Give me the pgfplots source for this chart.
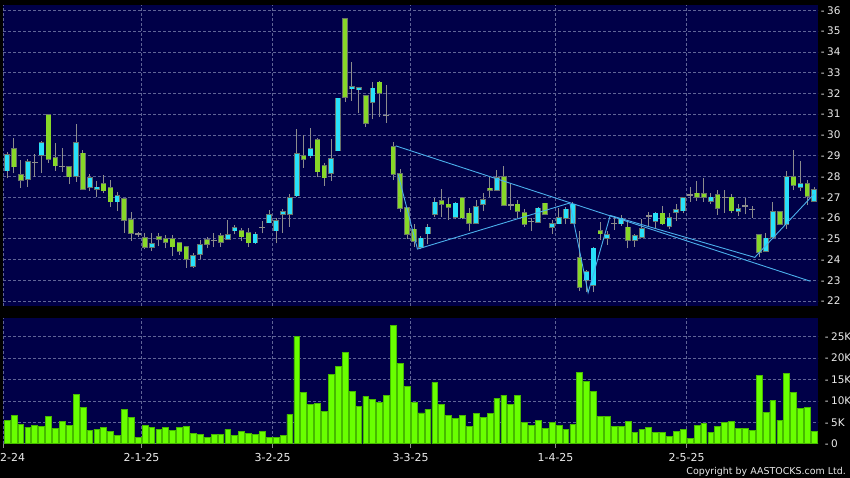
\documentclass[border=0pt]{standalone}
\usepackage{pgfplots}
\pgfplotsset{compat=1.18}
\usepackage{pgfplotstable}
\usepackage{fontspec}
\setmainfont{DejaVu Sans}
\definecolor{navy}{RGB}{0,0,72}
\definecolor{upc}{RGB}{40,225,250}
\definecolor{dnc}{RGB}{135,215,40}
\definecolor{wickc}{RGB}{140,140,140}
\definecolor{edgec}{RGB}{105,115,105}
\definecolor{volc}{RGB}{105,255,0}
\definecolor{voledge}{RGB}{70,185,0}
\definecolor{gridc}{RGB}{95,100,150}
\definecolor{trendc}{RGB}{75,175,235}
\definecolor{labc}{RGB}{235,235,235}
% t: 1 = up (close > open), 2 = down, 0 = doji
\pgfplotstableread{
i o h l c t
0 28.28 29.19 27.91 29.02 1
1 29.31 29.87 28.15 28.47 2
2 28.07 28.79 27.46 27.83 2
3 27.86 28.86 27.51 28.68 1
4 28.68 29.08 27.99 28.68 0
5 29.02 29.72 28.18 29.60 1
6 30.96 30.99 28.66 28.83 2
7 28.89 29.60 28.28 28.52 2
8 28.49 29.35 28.23 28.49 0
9 28.44 28.52 27.62 27.99 2
10 28.02 30.53 27.75 29.60 1
11 29.11 29.27 27.35 27.38 2
12 27.48 28.12 27.32 27.91 1
13 27.40 27.78 27.03 27.47 1
14 27.64 28.07 27.19 27.32 2
15 27.43 27.83 26.55 26.79 2
16 26.79 27.27 26.35 27.06 1
17 26.90 26.92 25.29 25.90 2
18 25.90 26.29 24.91 25.27 2
19 25.23 25.34 25.07 25.23 0
20 25.02 25.26 24.49 24.59 2
21 24.59 25.26 24.43 24.73 1
22 25.07 25.26 24.65 24.97 2
23 24.97 25.18 24.54 24.83 2
24 24.97 25.18 24.17 24.62 2
25 24.81 24.81 24.22 24.39 2
26 24.62 24.62 23.61 24.01 2
27 23.70 24.30 23.61 24.17 1
28 24.27 24.94 24.03 24.72 1
29 24.94 25.07 24.54 24.73 2
30 24.91 25.26 24.59 24.91 0
31 25.15 25.26 24.62 24.83 2
32 24.97 25.90 24.94 25.17 1
33 25.39 25.66 25.21 25.50 1
34 25.37 25.50 24.91 25.10 2
35 25.26 25.50 24.62 24.81 2
36 24.81 25.30 24.75 25.21 1
37 25.53 25.86 25.26 25.53 0
38 25.78 26.39 25.74 26.14 1
39 25.39 25.98 24.78 25.86 1
40 26.18 26.42 25.29 26.30 1
41 26.18 27.14 25.58 26.95 1
42 27.08 30.29 27.03 29.07 1
43 28.99 30.00 28.42 28.83 2
44 29.00 30.32 28.87 29.31 1
45 29.76 29.84 27.99 28.23 2
46 28.52 28.63 27.54 27.94 2
47 28.15 29.81 27.80 28.84 1
48 29.24 31.76 29.24 31.76 1
49 35.57 35.57 31.60 31.81 2
50 32.23 33.53 31.65 32.32 1
51 32.18 32.30 31.04 32.28 1
52 31.89 31.92 30.40 30.56 2
53 31.57 32.57 30.75 32.24 1
54 32.53 32.60 30.88 32.00 2
55 30.93 32.40 30.59 30.93 0
56 29.44 29.68 27.83 28.12 2
57 28.12 28.36 26.27 26.47 2
58 26.47 26.55 24.99 25.21 2
59 25.45 25.70 24.61 24.88 2
60 24.61 25.12 24.48 25.01 1
61 25.25 25.73 24.74 25.54 1
62 26.17 26.97 26.06 26.75 1
63 26.81 27.39 26.06 26.67 2
64 26.65 26.97 25.90 26.51 2
65 26.06 26.78 25.93 26.70 1
66 26.97 26.97 25.93 26.02 2
67 26.22 26.46 25.36 25.77 2
68 25.77 26.86 25.73 26.54 1
69 26.67 27.18 26.33 26.86 1
70 27.42 28.02 26.99 27.34 2
71 27.34 28.31 27.31 27.94 1
72 27.96 28.50 26.57 26.62 2
73 26.62 27.67 26.38 26.62 0
74 26.65 26.86 25.98 26.33 2
75 26.25 26.41 25.57 25.69 2
76 25.81 26.02 25.38 25.81 0
77 25.81 26.54 25.77 26.46 1
78 26.70 26.73 26.14 26.17 2
79 25.57 25.90 25.25 25.73 1
80 25.73 26.46 25.70 26.02 1
81 26.01 26.54 25.70 26.41 1
82 25.77 26.78 25.73 26.65 1
83 24.09 25.36 22.47 22.67 2
84 23.00 23.48 22.41 23.40 1
85 22.76 24.61 22.43 24.53 1
86 25.38 25.81 24.96 25.25 2
87 25.01 25.36 24.72 25.17 1
88 25.73 26.09 25.44 25.73 0
89 25.73 26.14 25.62 25.98 1
90 25.54 25.81 24.53 24.93 2
91 24.93 25.25 24.61 25.12 1
92 25.09 25.93 25.06 25.49 1
93 26.09 26.30 25.57 26.09 0
94 25.86 26.28 25.52 26.22 1
95 26.22 26.57 25.65 25.73 2
96 25.62 26.25 25.49 26.02 1
97 26.27 26.67 25.86 26.38 1
98 26.35 27.02 26.22 26.97 1
99 27.10 27.47 26.78 27.10 0
100 27.18 27.78 26.83 27.02 2
101 27.14 27.91 26.78 26.99 2
102 26.83 27.18 26.67 26.99 1
103 27.10 27.34 26.14 26.46 2
104 26.97 27.34 26.25 26.97 0
105 26.99 27.15 26.22 26.35 2
106 26.33 26.67 26.09 26.43 1
107 26.57 26.94 26.17 26.57 0
108 26.41 26.57 26.02 26.41 0
109 25.17 25.17 24.12 24.37 2
110 24.41 25.28 24.37 25.01 1
111 25.06 26.78 25.01 26.27 1
112 26.27 26.27 25.65 25.70 2
113 25.70 28.28 25.46 27.96 1
114 27.96 29.28 27.34 27.59 2
115 27.47 28.75 27.31 27.62 1
116 27.62 27.83 26.62 27.07 2
117 26.83 27.51 26.83 27.34 1
}\candles
\pgfplotstableread{
i v
0 5.53
1 6.54
2 4.44
3 3.89
4 4.36
5 4.05
6 6.39
7 3.66
8 5.14
9 4.28
10 11.53
11 8.41
12 3.12
13 3.43
14 3.74
15 2.96
16 1.95
17 8.10
18 6.15
19 1.48
20 4.36
21 3.74
22 3.35
23 3.82
24 3.12
25 3.74
26 4.05
27 2.41
28 2.10
29 1.56
30 2.10
31 2.10
32 3.35
33 2.02
34 2.96
35 2.34
36 2.18
37 2.88
38 1.40
39 1.40
40 1.87
41 6.85
42 25.16
43 11.99
44 9.27
45 9.42
46 7.55
47 16.20
48 18.15
49 21.34
50 12.31
51 8.64
52 11.06
53 10.44
54 9.58
55 11.37
56 27.73
57 18.85
58 13.47
59 9.74
60 7.20
61 8.02
62 14.25
63 9.19
64 6.70
65 6.00
66 6.70
67 3.97
68 7.17
69 6.15
70 7.01
71 10.59
72 11.37
73 9.11
74 11.21
75 4.91
76 4.36
77 5.53
78 3.50
79 4.91
80 4.36
81 3.43
82 4.44
83 16.74
84 14.49
85 12.23
86 6.46
87 6.46
88 3.97
89 3.97
90 5.30
91 2.65
92 3.27
93 3.82
94 2.73
95 2.73
96 1.64
97 2.96
98 3.43
99 1.32
100 4.36
101 4.75
102 2.73
103 4.13
104 4.98
105 5.14
106 3.50
107 3.66
108 3.12
109 15.89
110 7.32
111 10.05
112 5.53
113 16.51
114 12.07
115 8.26
116 8.41
117 2.88
}\volume
\begin{document}
\begin{tikzpicture}
\useasboundingbox (0bp,0bp) rectangle (850bp,478bp);
\clip (0bp,0bp) rectangle (850bp,478bp);
\fill[black] (0bp,0bp) rectangle (850bp,478bp);
% price panel
\begin{axis}[
  at={(3bp,172bp)}, anchor=south west,
  scale only axis, width=815bp, height=301bp,
  xmin=-0.58, xmax=117.54, ymin=21.759, ymax=36.255,
  axis background/.style={fill=navy},
  axis line style={draw=none},
  xtick={-0.5,19.5,38.5,58.5,79.5,98.5}, xticklabels={},
  ytick={22,23,...,36},
  yticklabel pos=right,
  major tick length=0pt,
  grid=major,
  major grid style={draw=gridc, dash pattern=on 2.5bp off 2.5bp, line width=0.6bp},
  /pgf/number format/assume math mode=true,
  yticklabel={-\hspace{2.6bp}\pgfmathprintnumber{\tick}},
  yticklabel style={anchor=west, inner sep=0pt, xshift=2.6bp, font=\fontsize{10.5}{12}\selectfont, text=labc},
]
\addplot[draw=none, mark=none, forget plot,
  error bars/.cd, y dir=plus, y explicit, error mark=none,
  error bar style={draw=wickc, line width=1bp}]
  table[x=i, y=l, y error plus expr=\thisrow{h}-\thisrow{l}] {\candles};
% up bodies
\addplot[draw=none, mark=none, forget plot, restrict expr to domain={\thisrow{t}}{0.5:1.5},
  error bars/.cd, y dir=plus, y explicit, error mark=none,
  error bar style={draw=edgec, line width=5.6bp}]
  table[x=i, y expr=\thisrow{o}-0.04, y error plus expr=\thisrow{c}-\thisrow{o}+0.08] {\candles};
\addplot[draw=none, mark=none, forget plot, restrict expr to domain={\thisrow{t}}{0.5:1.5},
  error bars/.cd, y dir=plus, y explicit, error mark=none,
  error bar style={draw=upc, line width=4.2bp}]
  table[x=i, y=o, y error plus expr=\thisrow{c}-\thisrow{o}] {\candles};
% down bodies
\addplot[draw=none, mark=none, forget plot, restrict expr to domain={\thisrow{t}}{1.5:2.5},
  error bars/.cd, y dir=plus, y explicit, error mark=none,
  error bar style={draw=edgec, line width=5.6bp}]
  table[x=i, y expr=\thisrow{c}-0.04, y error plus expr=\thisrow{o}-\thisrow{c}+0.08] {\candles};
\addplot[draw=none, mark=none, forget plot, restrict expr to domain={\thisrow{t}}{1.5:2.5},
  error bars/.cd, y dir=plus, y explicit, error mark=none,
  error bar style={draw=dnc, line width=4.2bp}]
  table[x=i, y=c, y error plus expr=\thisrow{o}-\thisrow{c}] {\candles};
% doji
\addplot[only marks, mark=-, mark size=3bp, mark options={draw=wickc, line width=1.2bp}, restrict expr to domain={\thisrow{t}}{-0.5:0.5}]
  table[x=i, y=o] {\candles};
% trend lines
\addplot[trendc, line width=0.9bp, mark=none] coordinates {(56.35,29.47) (116.45,22.95)};
\addplot[trendc, line width=0.9bp, mark=none] coordinates {(56.68,28.1) (59.49,24.5) (81.57,26.72) (84.22,22.4) (87.43,26.12) (108.38,24.1) (116.95,27.15)};
\end{axis}
% volume panel
\begin{axis}[
  at={(3bp,34.3bp)}, anchor=south west,
  scale only axis, width=815bp, height=125.7bp,
  xmin=-0.58, xmax=117.54, ymin=0, ymax=29.37,
  axis background/.style={fill=navy},
  axis line style={draw=none},
  xtick={-0.5,19.5,38.5,58.5,79.5,98.5},
  xticklabels={{\hspace*{18bp}2-24},2-1-25,3-2-25,3-3-25,1-4-25,2-5-25},
  xtick pos=bottom,
  ytick={0,5,10,15,20,25},
  yticklabels={{-\hspace{2.6bp}0},{-\hspace{2.6bp}5K},{-\hspace{2.6bp}10K},{-\hspace{2.6bp}15K},{-\hspace{2.6bp}20K},{-\hspace{2.6bp}25K}},
  yticklabel pos=right,
  tick align=outside,
  major tick length=4bp,
  xtick style={draw=wickc, line width=0.8bp},
  ytick style={draw=none},
  grid=major,
  major grid style={draw=gridc, dash pattern=on 2.5bp off 2.5bp, line width=0.6bp},
  yticklabel style={anchor=west, inner sep=0pt, xshift=2.6bp, font=\fontsize{10.5}{12}\selectfont, text=labc},
  xticklabel style={anchor=north, inner sep=0pt, yshift=-5.3bp, font=\fontsize{11}{13}\selectfont, text=labc},
]
\addplot[ybar, bar width=5.8bp, fill=volc, draw=voledge, line width=0.6bp] table[x=i, y=v] {\volume};
\end{axis}
\node[anchor=base east, inner sep=0pt, text=labc, font=\fontsize{9.5}{11}\selectfont] at (846bp,3.7bp) {Copyright by AASTOCKS.com Ltd.};
\end{tikzpicture}
\end{document}
